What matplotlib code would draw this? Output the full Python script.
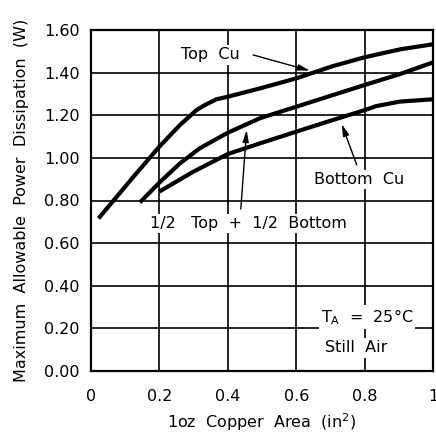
import matplotlib
matplotlib.use("Agg")
import matplotlib.pyplot as plt

# values
top_x = [0.022, 0.124, 0.2, 0.26, 0.309, 0.333, 0.367, 0.4, 0.494, 0.6, 0.708, 0.8, 0.903, 1.0]
top_y = [0.716, 0.911, 1.053, 1.154, 1.225, 1.248, 1.275, 1.287, 1.326, 1.373, 1.431, 1.472, 1.509, 1.533]

half_x = [0.143, 0.2, 0.26, 0.318, 0.4, 0.494, 0.6, 0.708, 0.8, 0.903, 1.0]
half_y = [0.791, 0.884, 0.974, 1.045, 1.118, 1.186, 1.240, 1.295, 1.342, 1.393, 1.448]

bot_x = [0.2, 0.299, 0.4, 0.494, 0.6, 0.708, 0.8, 0.834, 0.903, 1.0]
bot_y = [0.842, 0.935, 1.018, 1.068, 1.123, 1.178, 1.224, 1.243, 1.264, 1.275]

x_ticks = [0, 0.2, 0.4, 0.6, 0.8, 1.0]
x_labels = ["0", "0.2", "0.4", "0.6", "0.8", "1"]
y_ticks = [0.0, 0.2, 0.4, 0.6, 0.8, 1.0, 1.2, 1.4, 1.6]
y_labels = ["0.00", "0.20", "0.40", "0.60", "0.80", "1.00", "1.20", "1.40", "1.60"]

plt.rcParams["font.family"] = "DejaVu Sans"
fig = plt.figure(figsize=(4.36, 4.43), dpi=100)
ax = fig.add_axes([91 / 436, 1 - 371 / 443, 342 / 436, 341 / 443])

ax.set_xlim(0, 1)
ax.set_ylim(0, 1.6)
ax.set_xticks(x_ticks)
ax.set_xticklabels(x_labels, fontsize=11.5)
ax.set_yticks(y_ticks)
ax.set_yticklabels(y_labels, fontsize=11.5)
ax.tick_params(axis="both", length=0)
ax.tick_params(axis="x", pad=13)
ax.tick_params(axis="y", pad=8)
ax.grid(True, color="black", linewidth=1.2)
ax.set_axisbelow(True)
for s in ax.spines.values():
    s.set_linewidth(1.6)

for xs, ys in [(top_x, top_y), (half_x, half_y), (bot_x, bot_y)]:
    ax.plot(xs, ys, color="black", linewidth=3, solid_capstyle="butt", clip_on=False, zorder=3)

box = dict(facecolor="white", edgecolor="none", pad=1.5)
arrow = dict(arrowstyle="-|>,head_length=0.7,head_width=0.18", color="black", lw=1.0,
             shrinkA=0, shrinkB=0)

ax.text(0.348, 1.483, "Top  Cu", fontsize=11.5, ha="center", va="center", bbox=box, zorder=4)
ax.annotate("", xy=(0.64, 1.409), xytext=(0.474, 1.483), arrowprops=arrow, zorder=4)

ax.text(0.784, 0.90, "Bottom  Cu", fontsize=11.5, ha="center", va="center", bbox=box, zorder=4)
ax.annotate("", xy=(0.733, 1.159), xytext=(0.777, 0.967), arrowprops=arrow, zorder=4)

ax.text(0.46, 0.694, "1/2   Top  +  1/2  Bottom", fontsize=11.5, ha="center", va="center", bbox=box, zorder=4)
ax.annotate("", xy=(0.455, 1.131), xytext=(0.438, 0.760), arrowprops=arrow, zorder=4)

ax.text(0.807, 0.253, "T$_\\mathregular{A}$  =  25°C", fontsize=11.5, ha="center", va="center", bbox=box, zorder=4)
ax.text(0.775, 0.108, "Still  Air", fontsize=11.5, ha="center", va="center", bbox=box, zorder=4)

ax.set_xlabel("1oz  Copper  Area  (in$^\\mathregular{2}$)", fontsize=11.5, labelpad=5)
ax.set_ylabel("Maximum  Allowable  Power  Dissipation  (W)", fontsize=11.5, labelpad=11)

fig.savefig("out.png", dpi=100)
